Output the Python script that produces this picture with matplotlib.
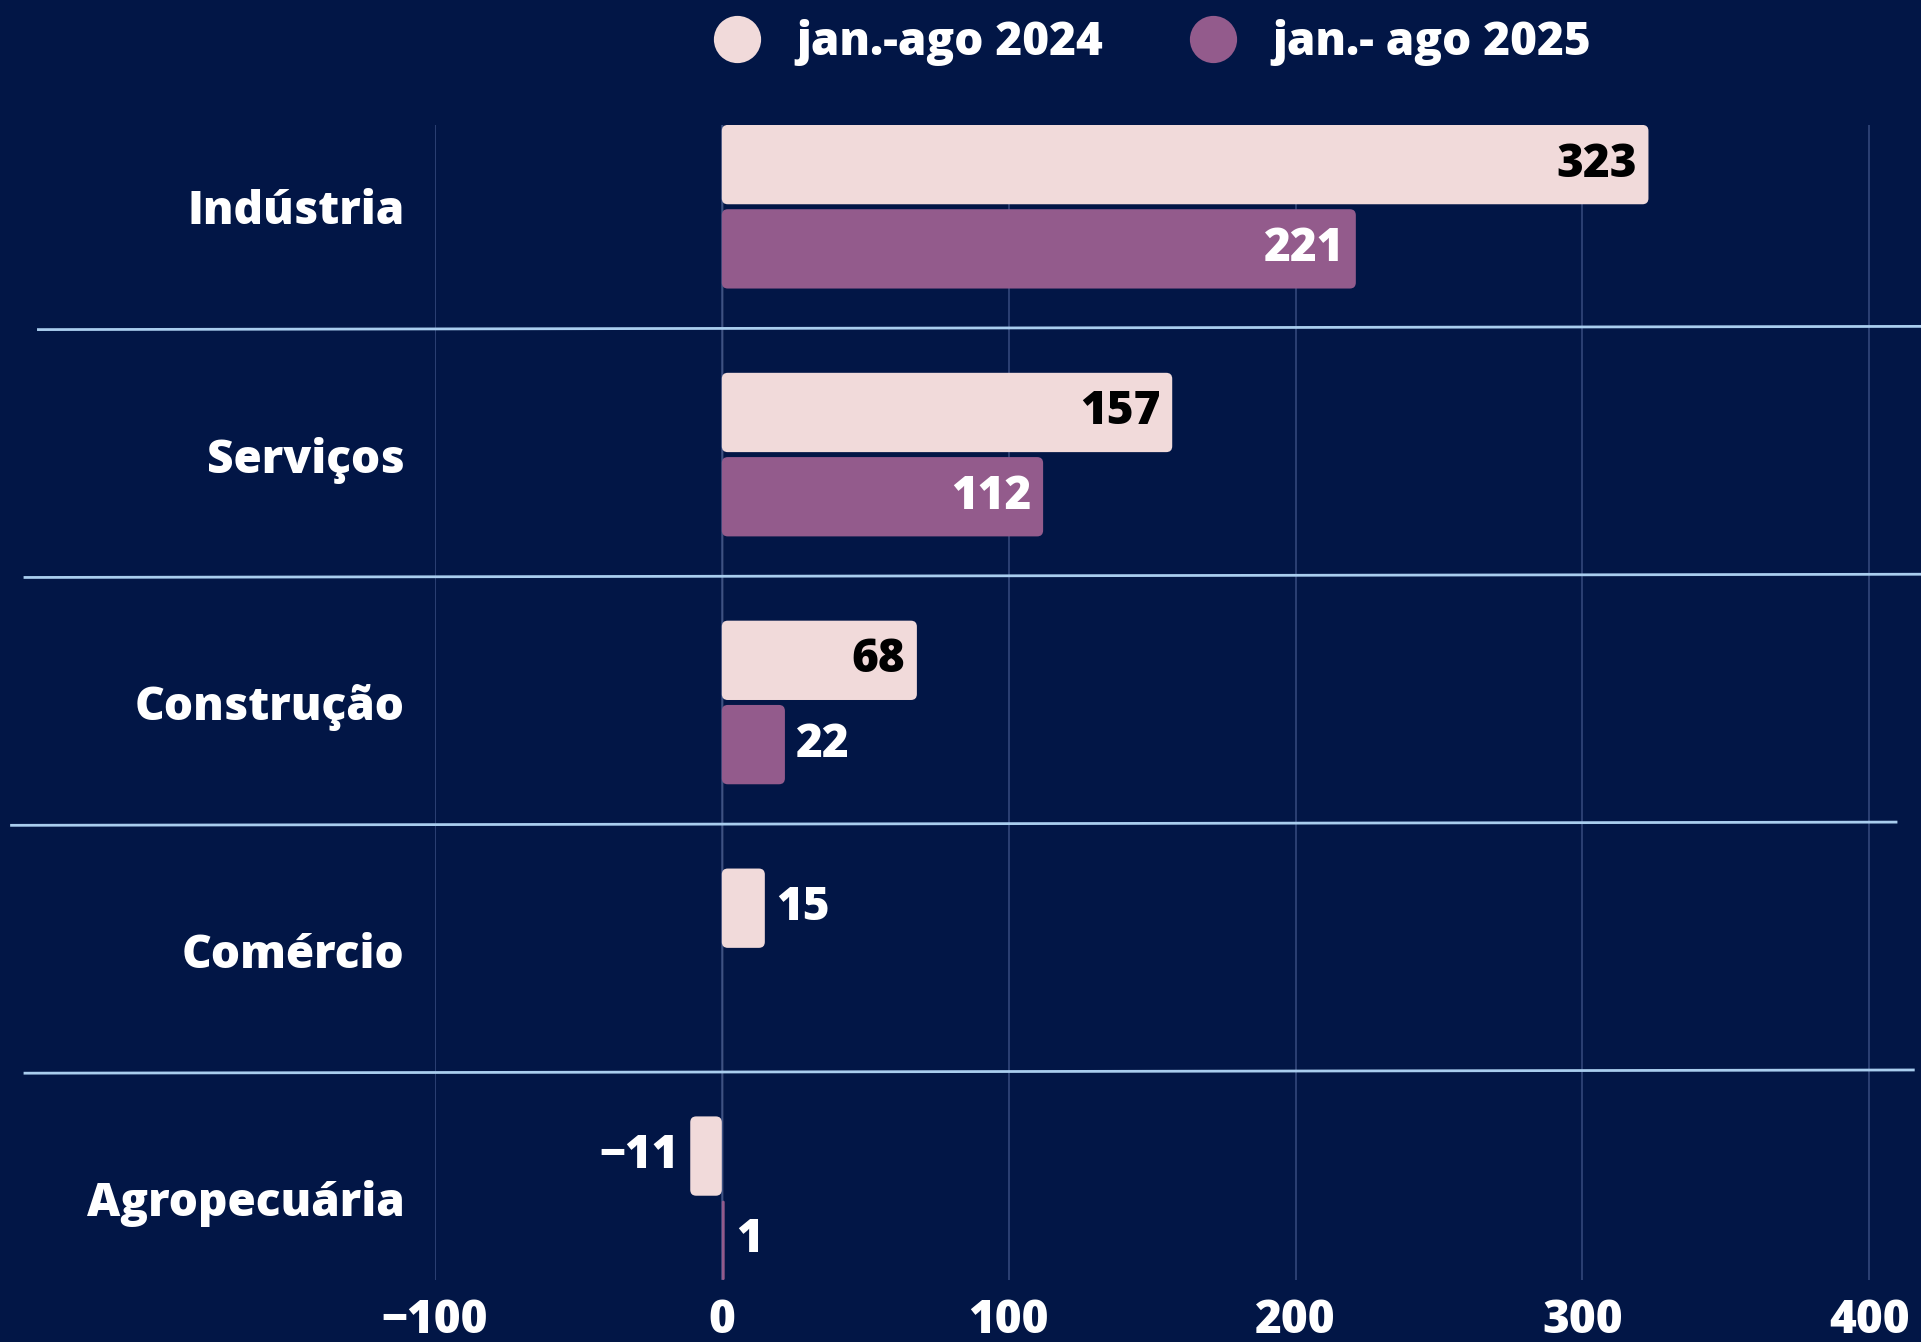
import matplotlib.pyplot as plt
from matplotlib.lines import Line2D
from matplotlib.patches import FancyBboxPatch
import numpy as np

categories = ["Indústria", "Serviços", "Construção", "Comércio", "Agropecuária"]
vals_2024 = [323, 157, 68, 15, -11]
vals_2025 = [221, 112, 22, None, 1]
series_names = ["jan.-ago 2024", "jan.- ago 2025"]
xticks = [-100, 0, 100, 200, 300, 400]

BG = "#021646"
PINK = "#F1DADA"
PURPLE = "#935B8C"
GRID = "#33477A"
SEP = "#A9CDEE"

plt.rcParams["font.family"] = ["Open Sans", "DejaVu Sans"]
plt.rcParams["font.weight"] = "heavy"

fig = plt.figure(figsize=(19.21, 13.42), dpi=100, facecolor=BG)
ax = fig.add_axes([0.2264, 0.0462, 0.7736, 0.8607], facecolor=BG)

y = np.arange(len(categories))
off = 0.17
h = 0.32
ax.set_xlim(-100, 418)
ax.set_ylim(len(categories) - 1 + off + h / 2, -off - h / 2)

# aspect for rounded corners
px_x = ax.get_window_extent().width / 518
px_y = ax.get_window_extent().height / (len(categories) - 1 + 2 * (off + h / 2))
r_px = 6


def rbar(x0, w, yc, color):
    if w is None:
        return
    left = min(x0, x0 + w)
    width = abs(w)
    rs = min(r_px / px_x, width / 2)
    p = FancyBboxPatch((left, yc - h / 2), width, h,
                       boxstyle=f"round,pad=0,rounding_size={rs}",
                       mutation_aspect=px_x / px_y,
                       fc=color, ec="none", zorder=3)
    ax.add_patch(p)


for i in range(len(categories)):
    rbar(0, vals_2024[i], y[i] - off, PINK)
    rbar(0, vals_2025[i], y[i] + off, PURPLE)

fs = 33
for i in range(len(categories)):
    for v, yc, dark in ((vals_2024[i], y[i] - off, True), (vals_2025[i], y[i] + off, False)):
        if v is None:
            continue
        if v > 40:
            ax.text(v - 4, yc, str(v), ha="right", va="center", fontsize=fs,
                    color="black" if dark else "white", fontweight="heavy", zorder=4)
        elif v >= 0:
            ax.text(v + 4, yc, str(v), ha="left", va="center", fontsize=fs,
                    color="white", fontweight="heavy", zorder=4)
        else:
            ax.text(v - 4, yc, "−" + str(abs(v)), ha="right", va="center", fontsize=fs,
                    color="white", fontweight="heavy", zorder=4)

ax.set_xticks(xticks)
ax.set_xticklabels([("−" + str(-t)) if t < 0 else str(t) for t in xticks],
                   fontsize=fs, color="white", fontweight="heavy")
ax.set_yticks(y)
ax.set_yticklabels(categories, fontsize=fs, color="white", fontweight="heavy")
ax.tick_params(axis="both", length=0)
ax.tick_params(axis="y", pad=22)
ax.tick_params(axis="x", pad=13)
for lab in ax.get_yticklabels():
    lab.set_horizontalalignment("right")
for s in ax.spines.values():
    s.set_visible(False)
ax.grid(axis="x", color=GRID, linewidth=1.2, zorder=0)
ax.axvline(0, color="#7D8BAE", linewidth=1, zorder=1)

# separators between categories (slightly tilted, spanning past the axes)
sep_left = [0.02, 0.013, 0.006, 0.013]
sep_right = [1.0, 1.0, 0.987, 0.996]
for k in range(len(categories) - 1):
    yd = y[k] + 0.5
    yf = ax.transData.transform((0, yd))[1] / fig.bbox.height + 0.002
    fig.add_artist(Line2D([sep_left[k], sep_right[k]], [yf - 0.0012, yf + 0.0012],
                          color=SEP, linewidth=2, transform=fig.transFigure, zorder=2))

handles = [Line2D([], [], marker="o", linestyle="none", markersize=34,
                  markerfacecolor=c, markeredgecolor="none") for c in (PINK, PURPLE)]
fig.legend(handles, series_names, loc="center", bbox_to_anchor=(0.594, 0.968), ncol=2,
           frameon=False, fontsize=fs, labelcolor="white", handletextpad=0.3,
           columnspacing=1.4, prop={"weight": "heavy", "size": fs})

fig.savefig("out.png", dpi=100, facecolor=BG)
